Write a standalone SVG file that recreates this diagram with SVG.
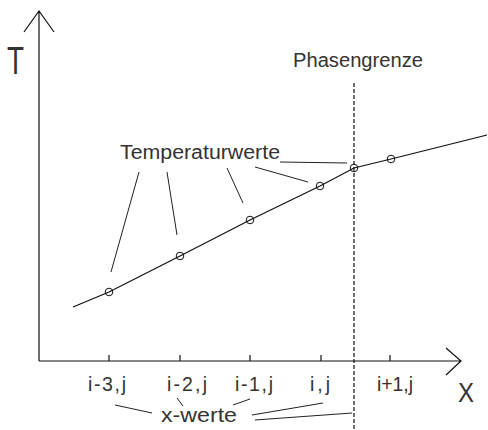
<svg xmlns="http://www.w3.org/2000/svg" width="488" height="430" viewBox="0 0 488 430">
<style>
.ln{stroke:#111;stroke-width:1.2;fill:none}
.ld{stroke:#222;stroke-width:1;fill:none}
.pt{stroke:#111;stroke-width:1;fill:none}
.tx{font-family:"Liberation Sans","DejaVu Sans",sans-serif;font-size:19.5px;fill:#333}
</style>
<rect width="488" height="430" fill="#fff"/>
<g id="axes">
<path class="ln" d="M39,361 V11 M24,32 L39,11 L54,32"/>
<path class="ln" d="M39,361 H461 M446,348 L461,361 L446,375"/>
<path class="ln" d="M109,355 V361 M180,355 V361 M250,355 V361 M321,355 V361 M390,355 V361"/>
<text class="tx" x="7" y="74" style="font-size:39px" textLength="17" lengthAdjust="spacingAndGlyphs">T</text>
<text class="tx" x="458" y="402" style="font-size:27px" textLength="16" lengthAdjust="spacingAndGlyphs">X</text>
</g>
<g id="phasengrenze">
<line x1="354" y1="83" x2="354" y2="430" stroke="#111" stroke-width="1.2" stroke-dasharray="4,2"/>
<text class="tx" x="293" y="67" textLength="130" lengthAdjust="spacingAndGlyphs">Phasengrenze</text>
</g>
<g id="curve">
<polyline class="ln" points="73,307 109,292 180,256 250,220 320,186 354,168 391,159 487,135"/>
<circle class="pt" cx="109" cy="292" r="3.8"/>
<circle class="pt" cx="180" cy="256" r="3.8"/>
<circle class="pt" cx="250" cy="220" r="3.8"/>
<circle class="pt" cx="320" cy="186" r="3.8"/>
<circle class="pt" cx="354" cy="168" r="3.8"/>
<circle class="pt" cx="391" cy="159" r="3.8"/>
</g>
<g id="temperaturwerte">
<text class="tx" x="120" y="159" textLength="160" lengthAdjust="spacingAndGlyphs">Temperaturwerte</text>
</g>
<g id="xlabels">
<text class="tx" x="88" y="391" textLength="38" lengthAdjust="spacing">i-3,j</text>
<text class="tx" x="167" y="391" textLength="40" lengthAdjust="spacing">i-2,j</text>
<text class="tx" x="235" y="391" textLength="38" lengthAdjust="spacing">i-1,j</text>
<text class="tx" x="310" y="391" textLength="20" lengthAdjust="spacing">i,j</text>
<text class="tx" x="377" y="391" textLength="36" lengthAdjust="spacing">i+1,j</text>
<text class="tx" x="161" y="422" textLength="76" lengthAdjust="spacingAndGlyphs">x-werte</text>
</g>
<g id="connectors">
<path class="ld" d="M139,172 L111,272 M167,172 L177,235 M227,168 L243,203 M255,167 L308,182 M280,162 L347,163"/>
<path class="ld" d="M115,405 L152,413 M177,398 L183,406 M233,405 L250,399 M252,415 L323,403 M255,420 L352,413"/>
</g>
</svg>
